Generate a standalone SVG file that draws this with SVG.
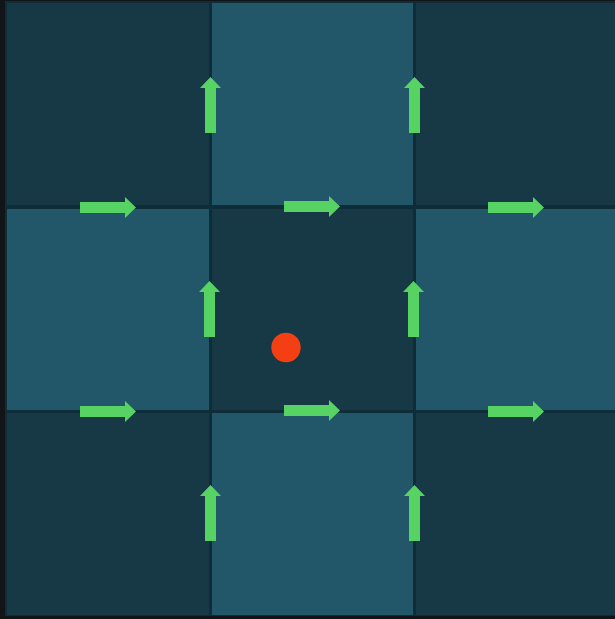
<svg xmlns="http://www.w3.org/2000/svg" width="615" height="619" viewBox="0 0 615 619">
<style>
.dk{fill:#163945}
.lt{fill:#225769}
.ar{fill:#57d364}
</style>
<defs>
<path id="arr" d="M0,-5.5 H45 V-10.5 L56,0 L45,10.5 V5.5 H0 Z"/>
</defs>
<rect x="0" y="0" width="615" height="619" fill="#121518"/>
<rect x="5" y="1" width="612" height="615" fill="#0f2d39"/>
<g id="cells">
<rect id="c00" class="dk" x="7" y="3" width="202" height="202"/>
<rect id="c01" class="lt" x="212" y="3" width="201" height="202"/>
<rect id="c02" class="dk" x="416" y="3" width="199" height="202"/>
<rect id="c10" class="lt" x="7" y="209" width="202" height="201"/>
<rect id="c11" class="dk" x="212" y="209" width="201" height="201"/>
<rect id="c12" class="lt" x="416" y="209" width="199" height="201"/>
<rect id="c20" class="dk" x="7" y="413" width="202" height="202"/>
<rect id="c21" class="lt" x="212" y="413" width="201" height="202"/>
<rect id="c22" class="dk" x="416" y="413" width="199" height="202"/>
</g>
<g id="arrows" class="ar">
<use href="#arr" transform="translate(80,207.5)"/>
<use href="#arr" transform="translate(284,206.5)"/>
<use href="#arr" transform="translate(488,207.5)"/>
<use href="#arr" transform="translate(80,411.5)"/>
<use href="#arr" transform="translate(284,410.5)"/>
<use href="#arr" transform="translate(488,411.5)"/>
<use href="#arr" transform="translate(210.5,133) rotate(-90)"/>
<use href="#arr" transform="translate(414.5,133) rotate(-90)"/>
<use href="#arr" transform="translate(209.5,337) rotate(-90)"/>
<use href="#arr" transform="translate(413.5,337) rotate(-90)"/>
<use href="#arr" transform="translate(210.5,541) rotate(-90)"/>
<use href="#arr" transform="translate(414.5,541) rotate(-90)"/>
</g>
<g id="agent">
<circle cx="286" cy="347.5" r="14.7" fill="#f43f14"/>
</g>
</svg>
